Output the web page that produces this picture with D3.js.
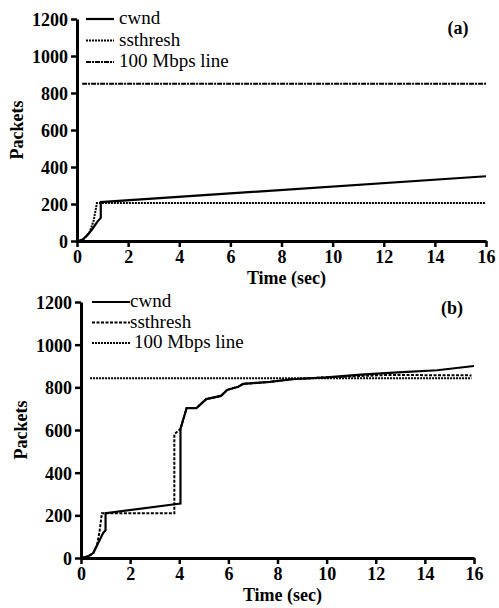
<!DOCTYPE html>
<html>
<head>
<meta charset="utf-8">
<script src="https://cdn.jsdelivr.net/npm/d3@7"></script>
<style>
  body { margin: 0; background: #fff; }
  svg { display: block; }
</style>
</head>
<body>
<div id="chart"></div>
<script>
// panel (a)
var cwndTimeA = [0, 0.2, 0.4, 0.6, 0.8, 0.93, 0.93, 16],
    cwndValA = [0, 5, 30, 65, 105, 125, 210, 350];
var ssthreshTimeA = [0, 0.25, 0.5, 0.65, 0.78, 16],
    ssthreshValA = [0, 10, 50, 110, 205, 205];
var linkTimeA = [0.2, 16],
    linkValA = [850, 850];

// panel (b)
var cwndTimeB = [0, 0.3, 0.5, 0.7, 0.9, 1.0, 1.0, 3.9, 4.05, 4.05, 4.3, 4.7, 5.1, 5.7, 5.95, 6.4, 6.6, 7.7, 8.6, 10, 11.4, 12.9, 14.5, 16],
    cwndValB = [0, 8, 23, 70, 117, 130, 210, 253, 255, 605, 703, 703, 745, 760, 788, 803, 816, 826, 838, 847, 860, 870, 880, 900];
var ssthreshTimeB = [0, 0.3, 0.5, 0.65, 0.75, 0.85, 3.8, 3.8, 4.05, 4.3, 4.7, 5.1, 5.7, 5.95, 6.4, 6.6, 7.7, 8.6, 10, 12.5, 15.9],
    ssthreshValB = [0, 8, 23, 60, 120, 210, 210, 580, 605, 703, 703, 745, 760, 788, 803, 816, 826, 838, 847, 858, 856];
var linkTimeB = [0.37, 15.9],
    linkValB = [843, 843];

var xTicks = [0, 2, 4, 6, 8, 10, 12, 14, 16],
    yTicks = [0, 200, 400, 600, 800, 1000, 1200],
    legendLabels = ["cwnd", "ssthresh", "100 Mbps line"];

var serif = "Liberation Serif";

var svg = d3.select("#chart").append("svg")
    .attr("width", 499)
    .attr("height", 608);

function zip(t, v) {
  return t.map(function(d, i) { return [d, v[i]]; });
}

function drawPanel(p) {
  var x = d3.scaleLinear().domain([0, 16]).range([p.left, p.right]);
  var y = d3.scaleLinear().domain([0, 1200]).range([p.bottom, p.top]);

  var g = svg.append("g");

  var line = d3.line()
      .x(function(d) { return x(d[0]); })
      .y(function(d) { return y(d[1]); });

  p.series.forEach(function(s) {
    g.append("path")
        .datum(s.data)
        .attr("fill", "none")
        .attr("stroke", "#000")
        .attr("stroke-width", s.width)
        .attr("stroke-dasharray", s.dash)
        .attr("d", line);
  });

  var xAxis = g.append("g")
      .attr("transform", "translate(0," + p.bottom + ")")
      .call(d3.axisBottom(x).tickValues(xTicks).tickFormat(d3.format("d")).tickSizeInner(6).tickSizeOuter(0).tickPadding(3));
  var yAxis = g.append("g")
      .attr("transform", "translate(" + p.left + ",0)")
      .call(d3.axisLeft(y).tickValues(yTicks).tickFormat(d3.format("d")).tickSizeInner(6).tickSizeOuter(0).tickPadding(3));

  [xAxis, yAxis].forEach(function(a) {
    a.select(".domain").attr("stroke-width", 3).attr("stroke", "#000");
    a.selectAll(".tick line").attr("stroke-width", 2.5).attr("stroke", "#000");
    a.selectAll(".tick text")
        .style("font-family", serif)
        .style("font-weight", "bold")
        .style("font-size", "18px")
        .attr("fill", "#000");
  });
  yAxis.selectAll(".tick text").attr("dy", "0.36em");

  g.append("text")
      .attr("text-anchor", "middle")
      .attr("x", (p.left + p.right) / 2 + 5)
      .attr("y", p.bottom + 43)
      .style("font-family", serif).style("font-weight", "bold").style("font-size", "18px")
      .text("Time (sec)");

  g.append("text")
      .attr("text-anchor", "middle")
      .attr("transform", "translate(" + (p.left - 54) + "," + (p.top + p.bottom) / 2 + ") rotate(-90)")
      .style("font-family", serif).style("font-weight", "bold").style("font-size", "18px")
      .text("Packets");

  g.append("text")
      .attr("text-anchor", "middle")
      .attr("x", p.labelX)
      .attr("y", p.labelY)
      .style("font-family", serif).style("font-weight", "bold").style("font-size", "18px")
      .text(p.label);

  var legend = g.append("g");
  p.series.forEach(function(s, i) {
    var ly = p.legendY + i * p.legendStep;
    legend.append("line")
        .attr("x1", p.legendX1).attr("x2", p.legendX2)
        .attr("y1", ly).attr("y2", ly)
        .attr("stroke", "#000")
        .attr("stroke-width", s.width)
        .attr("stroke-dasharray", s.dash);
    legend.append("text")
        .attr("x", p.legendX2 + (i == 2 ? p.legendGap3 : p.legendGap))
        .attr("y", ly + 5)
        .style("font-family", serif).style("font-size", "19px")
        .text(legendLabels[i]);
  });
}

drawPanel({
  left: 77, right: 486, top: 19, bottom: 241,
  label: "(a)", labelX: 458, labelY: 34,
  legendX1: 86, legendX2: 114, legendY: 19, legendStep: 21.5, legendGap: 5, legendGap3: 5,
  series: [
    {data: zip(cwndTimeA, cwndValA), width: 2.2, dash: null},
    {data: zip(ssthreshTimeA, ssthreshValA), width: 2, dash: "2,1"},
    {data: zip(linkTimeA, linkValA), width: 2, dash: "5,1,2,1"}
  ]
});

drawPanel({
  left: 81, right: 474, top: 302, bottom: 558,
  label: "(b)", labelX: 452, labelY: 314,
  legendX1: 92, legendX2: 130, legendY: 302, legendStep: 20.5, legendGap: 0, legendGap3: 4,
  series: [
    {data: zip(cwndTimeB, cwndValB), width: 2.2, dash: null},
    {data: zip(ssthreshTimeB, ssthreshValB), width: 2, dash: "3,1.5"},
    {data: zip(linkTimeB, linkValB), width: 2, dash: "2,1"}
  ]
});
</script>
</body>
</html>
